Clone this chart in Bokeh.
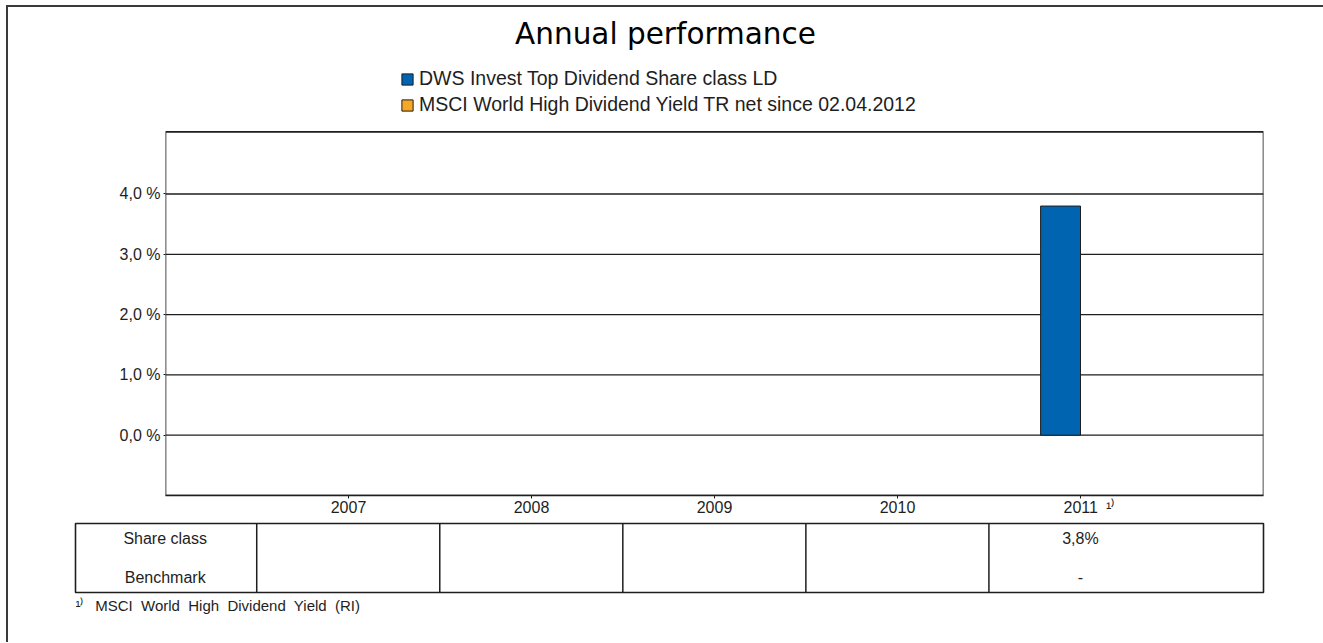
import numpy as np
from bokeh.plotting import figure
from bokeh.models import (Range1d, FixedTicker, CustomJSTickFormatter, Title, Label,
                          Legend, LegendItem, ColumnDataSource)
from bokeh.layouts import column
from bokeh.transform import dodge
from bokeh.embed import file_html
from bokeh.resources import INLINE
from bokeh.core.properties import value

# ---------------- data ----------------
title_text = "Annual performance"
years = ["2007", "2008", "2009", "2010", "2011"]
share_class = [None, None, None, None, 3.8]
benchmark = [None, None, None, None, None]
share_labels = ["", "", "", "", "3,8%"]
bench_labels = ["", "", "", "", "-"]
series_names = ["DWS Invest Top Dividend Share class LD",
                "MSCI World High Dividend Yield TR net since 02.04.2012"]
row_names = ["Share class", "Benchmark"]
y_ticks = [0, 1, 2, 3, 4]
y_min, y_plot_max, y_view_max = -1.0, 5.03, 7.076
footnote_mark = "\u00b9\u207e"   # superscript "1)"
footnote_text = "MSCI World High Dividend Yield (RI)"
footnote_year = "2011"

# ---------------- style ----------------
FONT = "Liberation Sans"
INK = "#1e1e1e"
BLUE = "#0064B1"
ORANGE = "#F7A626"

pos = [i + 1 for i in range(len(years))]
x_min, x_max = 0, len(years) + 1
tick_labels = [("\u2007\u2007" + y + "\u2002" + footnote_mark) if y == footnote_year else y
               for y in years]

p = figure(width=1315, height=514, x_range=Range1d(x_min, x_max),
           y_range=Range1d(y_min, y_view_max), output_backend="svg", toolbar_location=None,
           min_border_left=157, min_border_right=60, min_border_top=1,
           min_border_bottom=26)
p.frame_align = False
p.background_fill_color = "white"
p.border_fill_color = "white"
p.outline_line_color = None

# chart box
p.quad(left=[x_min], right=[x_max], bottom=[y_min], top=[y_plot_max],
       fill_color=None, line_color=INK, line_width=1.6)

# gridlines only inside the chart box
p.xgrid.visible = False
p.ygrid.visible = False
p.segment(x0=[x_min] * len(y_ticks), x1=[x_max] * len(y_ticks), y0=y_ticks, y1=y_ticks,
          line_color=INK, line_width=1.3)


def src(vals):
    tops = np.array([np.nan if v is None else v for v in vals], dtype=float)
    return ColumnDataSource(dict(x=np.array(pos, dtype=float), top=tops))


bw = 0.218
r_share = p.vbar(x=dodge("x", -bw / 2, range=p.x_range), top="top", bottom=0, width=bw,
                 source=src(share_class), fill_color=BLUE, line_color=INK, line_width=1)
r_bench = p.vbar(x=dodge("x", bw / 2, range=p.x_range), top="top", bottom=0, width=bw,
                 source=src(benchmark), fill_color=ORANGE, line_color=INK, line_width=1)

# axes
p.xaxis.ticker = FixedTicker(ticks=pos)
p.xaxis.formatter = CustomJSTickFormatter(args=dict(labels=tick_labels),
                                          code="return labels[Math.round(tick) - 1] || '';")
p.yaxis.ticker = FixedTicker(ticks=y_ticks)
p.yaxis.formatter = CustomJSTickFormatter(code="return tick.toFixed(1).replace('.', ',') + ' %';")
for ax in (p.xaxis[0], p.yaxis[0]):
    ax.major_tick_line_color = INK
    ax.major_tick_in = 0
    ax.minor_tick_line_color = None
    ax.major_label_text_font = FONT
    ax.major_label_text_font_size = "16px"
    ax.major_label_text_color = INK
p.xaxis.axis_line_color = INK
p.xaxis.axis_line_width = 1.6
p.yaxis.axis_line_color = None
p.xaxis.major_tick_out = 3
p.xaxis.major_label_standoff = 0
p.yaxis.major_tick_out = 2
p.yaxis.major_label_standoff = 3

# title
p.add_layout(Label(x=500, y=462, x_units="screen", y_units="screen", text=title_text,
                   text_font="DejaVu Sans", text_font_size="29.5px", text_color="black",
                   text_align="center", text_baseline="alphabetic"))

# legend
legend = Legend(items=[LegendItem(label=series_names[0], renderers=[r_share]),
                       LegendItem(label=series_names[1], renderers=[r_bench])],
                location=(235, 379), orientation="vertical")
legend.border_line_alpha = 0
legend.background_fill_alpha = 0
legend.padding = 0
legend.margin = 0
legend.spacing = 3
legend.glyph_width = 14
legend.glyph_height = 14
legend.label_height = 22
legend.label_standoff = 5
legend.label_text_font = FONT
legend.label_text_font_size = "19.5px"
legend.label_text_color = INK
p.add_layout(legend, "center")

# ---------------- table ----------------
t = figure(width=1315, height=121, x_range=Range1d(-0.49, x_max),
           y_range=Range1d(0, 2), output_backend="svg", toolbar_location=None,
           x_axis_location=None, y_axis_location=None,
           min_border_left=67, min_border_right=60, min_border_top=2, min_border_bottom=50)
t.frame_align = False
t.grid.visible = False
t.outline_line_color = INK
t.outline_line_width = 1.6
t.border_fill_color = "white"

div_x = [x - 0.5 for x in pos]
t.segment(x0=div_x, x1=div_x, y0=[0] * len(div_x), y1=[2] * len(div_x),
          line_color=INK, line_width=1.5)

row_y = [1.56, 0.44]
t.text(x=[0, 0], y=row_y, text=row_names, text_font=value(FONT), text_font_size="16px",
       text_color=INK, text_align="center", text_baseline="middle")
t.text(x=pos, y=[row_y[0]] * len(pos), text=share_labels, text_font=value(FONT),
       text_font_size="16px", text_color=INK, text_align="center", text_baseline="middle")
t.text(x=pos, y=[row_y[1]] * len(pos), text=bench_labels, text_font=value(FONT),
       text_font_size="16px", text_color=INK, text_align="center", text_baseline="middle")

foot = Title(text=footnote_mark + "\u2002 " + footnote_text.replace(" ", "\u00a0 "),
             align="left", offset=0, standoff=4, text_font=FONT, text_font_size="15px",
             text_font_style="normal", text_color=INK)
t.add_layout(foot, "below")

layout = column(p, t, styles={"border-left": "2px solid #3a3a3a",
                              "border-top": "2px solid #3a3a3a"})
layout.margin = (5, 0, 0, 6)

open("out.html", "w").write(file_html(layout, INLINE))
